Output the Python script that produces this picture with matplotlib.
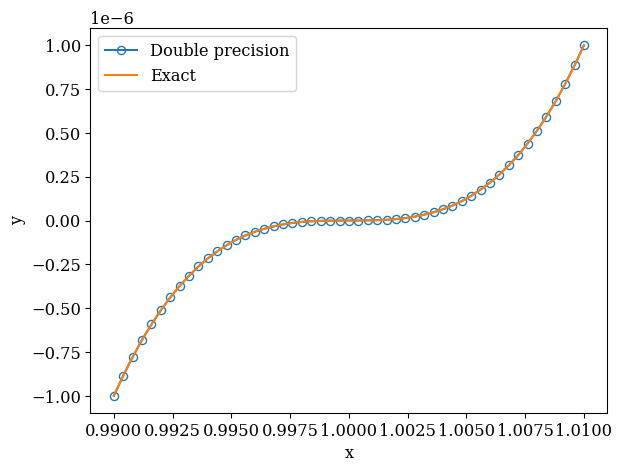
import matplotlib
matplotlib.use("Agg")
import matplotlib.pyplot as plt

plt.rcParams['font.family'] = 'DejaVu Serif'
plt.rcParams['font.size'] = 12

# sample positions (step 0.0004)
x_vals = [0.9900, 0.9904, 0.9908, 0.9912, 0.9916, 0.9920, 0.9924, 0.9928, 0.9932, 0.9936,
          0.9940, 0.9944, 0.9948, 0.9952, 0.9956, 0.9960, 0.9964, 0.9968, 0.9972, 0.9976,
          0.9980, 0.9984, 0.9988, 0.9992, 0.9996, 1.0000, 1.0004, 1.0008, 1.0012, 1.0016,
          1.0020, 1.0024, 1.0028, 1.0032, 1.0036, 1.0040, 1.0044, 1.0048, 1.0052, 1.0056,
          1.0060, 1.0064, 1.0068, 1.0072, 1.0076, 1.0080, 1.0084, 1.0088, 1.0092, 1.0096,
          1.0100]

# y values in units of 1e-6
y_half = [-1.000, -0.885, -0.779, -0.681, -0.593, -0.512, -0.439, -0.373, -0.315, -0.262,
          -0.216, -0.176, -0.141, -0.110, -0.085, -0.064, -0.047, -0.033, -0.022, -0.014,
          -0.008, -0.004, -0.002, -0.001, 0.000]
y_double = y_half + [0.0] + [-v for v in reversed(y_half)]
y_double = [v * 1e-6 for v in y_double]
y_exact = list(y_double)

fig, ax = plt.subplots(figsize=(6.4, 4.8), dpi=97.35)
ax.plot(x_vals, y_double, marker='o', markerfacecolor='none', label='Double precision')
ax.plot(x_vals, y_exact, label='Exact')
ax.set_xlabel('x')
ax.set_ylabel('y')
ax.legend(loc='upper left')
fig.subplots_adjust(left=0.145, right=0.975, bottom=0.115, top=0.94)
fig.savefig('out.png')
